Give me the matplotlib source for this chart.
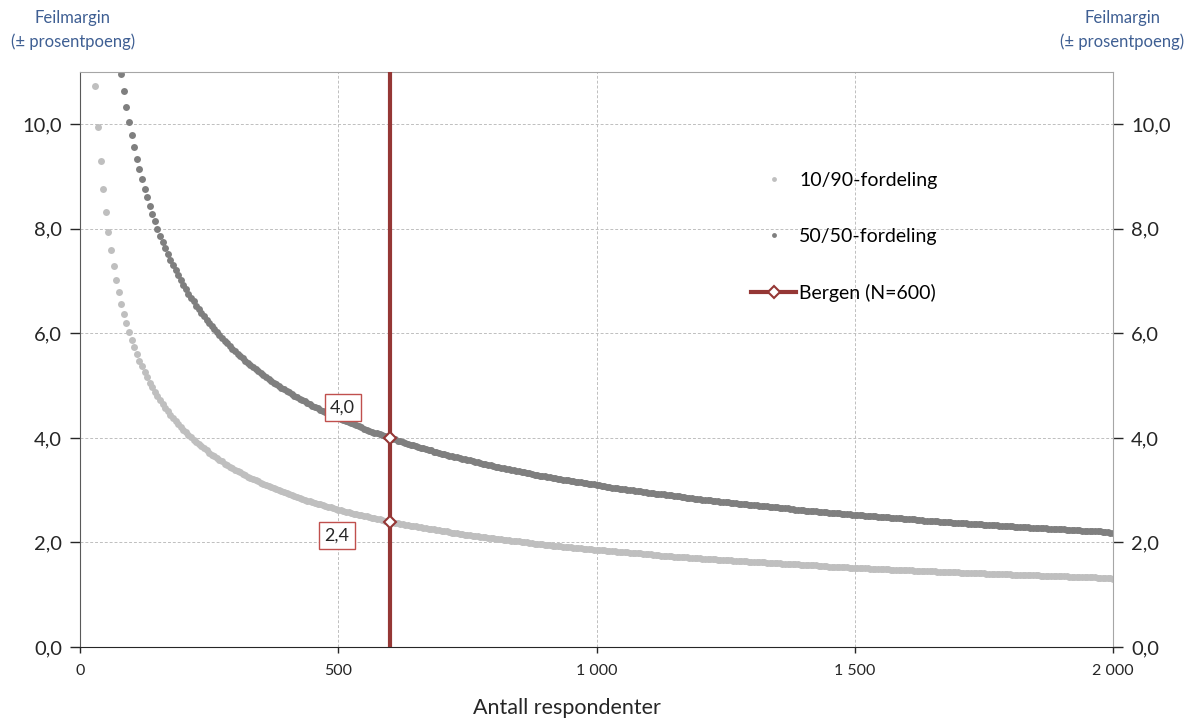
import matplotlib
matplotlib.use("Agg")
import matplotlib.pyplot as plt
from matplotlib.lines import Line2D
from matplotlib.ticker import FuncFormatter

plt.rcParams['font.family'] = ['Lato', 'DejaVu Sans']

# Number of respondents (x), every 5th from 30 to 2000
n_resp = list(range(30, 2001, 5))

# Margin of error, in hundredths of a percentage point, 10/90 distribution
moe_1090_hundredths = [
    1074, 994, 930, 877, 832, 793, 759, 729, 703, 679,
    657, 638, 620, 603, 588, 574, 561, 548, 537, 526,
    516, 506, 497, 488, 480, 472, 465, 458, 451, 444,
    438, 432, 427, 421, 416, 411, 406, 401, 396, 392,
    388, 384, 380, 376, 372, 368, 365, 361, 358, 355,
    351, 348, 345, 342, 339, 337, 334, 331, 329, 326,
    324, 321, 319, 317, 314, 312, 310, 308, 306, 304,
    302, 300, 298, 296, 294, 292, 290, 289, 287, 285,
    284, 282, 280, 279, 277, 276, 274, 273, 271, 270,
    268, 267, 266, 264, 263, 262, 260, 259, 258, 257,
    255, 254, 253, 252, 251, 250, 248, 247, 246, 245,
    244, 243, 242, 241, 240, 239, 238, 237, 236, 235,
    234, 233, 232, 232, 231, 230, 229, 228, 227, 226,
    225, 225, 224, 223, 222,
    221, 221, 220, 219, 218, 218, 217, 216, 215, 215,
    214, 213, 213, 212, 211, 211, 210, 209, 209, 208,
    207, 207, 206, 205, 205, 204, 203, 203, 202, 202,
    201, 201, 200, 199, 199, 198, 198, 197, 197, 196,
    195, 195, 194, 194, 193, 193, 192, 192, 191, 191,
    190, 190, 189, 189, 188, 188, 187, 187, 186, 186,
    185, 185, 185, 184, 184, 183, 183, 182, 182, 181,
    181, 181, 180, 180, 179, 179, 179, 178, 178, 177,
    177, 176, 176, 176, 175, 175, 175, 174, 174, 173,
    173, 173, 172, 172, 172, 171, 171, 170, 170, 170,
    169, 169, 169, 168, 168, 168, 167, 167, 167, 166,
    166, 166, 165, 165, 165, 164, 164, 164, 163, 163,
    163, 162, 162, 162, 162, 161, 161, 161, 160, 160,
    160, 159, 159, 159, 159, 158, 158, 158, 157, 157,
    157, 157, 156, 156, 156, 155, 155, 155, 155, 154,
    154, 154, 154, 153, 153, 153, 153, 152, 152, 152,
    152, 151, 151, 151, 151, 150, 150, 150, 150, 149,
    149, 149, 149, 148, 148, 148, 148, 147, 147, 147,
    147, 147, 146, 146, 146, 146, 145, 145, 145, 145,
    145, 144, 144, 144, 144, 143, 143, 143, 143, 143,
    142, 142, 142, 142, 142, 141, 141, 141, 141, 141,
    140, 140, 140, 140, 140, 139, 139, 139, 139, 139,
    138, 138, 138, 138, 138, 137, 137, 137, 137, 137,
    137, 136, 136, 136, 136, 136, 135, 135, 135, 135,
    135, 135, 134, 134, 134, 134, 134, 133, 133, 133,
    133, 133, 133, 132, 132, 132, 132, 132, 132, 131,
]

# Margin of error, in hundredths of a percentage point, 50/50 distribution
moe_5050_hundredths = [
    1789, 1657, 1550, 1461, 1386, 1321, 1265, 1216, 1171, 1132,
    1096, 1063, 1033, 1005, 980, 956, 934, 914, 895, 877,
    860, 843, 828, 814, 800, 787, 775, 763, 752, 741,
    730, 721, 711, 702, 693, 684, 676, 668, 661, 653,
    646, 639, 633, 626, 620, 614, 608, 602, 596, 591,
    586, 581, 575, 571, 566, 561, 557, 552, 548, 544,
    539, 535, 531, 528, 524, 520, 517, 513, 509, 506,
    503, 499, 496, 493, 490, 487, 484, 481, 478, 475,
    473, 470, 467, 465, 462, 459, 457, 454, 452, 450,
    447, 445, 443, 440, 438,
    436, 434, 432, 430, 428, 426, 424, 422, 420, 418,
    416, 414, 412, 410, 409, 407, 405, 403, 402, 400,
    398, 397, 395, 394, 392, 390, 389, 387, 386, 384,
    383, 381, 380, 379, 377, 376, 374, 373, 372, 370,
    369, 368, 366, 365, 364, 363, 361, 360, 359, 358,
    357, 355, 354, 353, 352, 351, 350, 349, 348, 346,
    345, 344, 343, 342, 341, 340, 339, 338, 337, 336,
    335, 334, 333, 332, 331, 330, 329, 328, 328, 327,
    326, 325, 324, 323, 322, 321, 320, 320, 319, 318,
    317, 316, 315, 315, 314, 313, 312, 311, 311, 310,
    309, 308, 308, 307, 306, 305, 305, 304, 303, 302,
    302, 301, 300, 300, 299, 298, 298, 297, 296, 295,
    295, 294, 293, 293, 292, 292, 291, 290, 290, 289,
    288, 288, 287, 287, 286, 285, 285, 284, 283, 283,
    282, 282, 281, 281, 280, 279, 279, 278, 278, 277,
    277, 276, 276, 275, 274, 274, 273, 273, 272, 272,
    271, 271, 270, 270, 269, 269, 268, 268, 267, 267,
    266, 266, 265, 265, 264, 264, 263, 263, 262, 262,
    261, 261, 261, 260, 260, 259, 259, 258, 258, 257,
    257, 256, 256, 256, 255, 255, 254, 254, 253, 253,
    253, 252, 252, 251, 251, 251, 250, 250, 249, 249,
    249, 248, 248, 247, 247, 247, 246, 246, 245, 245,
    245, 244, 244, 243, 243, 243, 242, 242, 242, 241,
    241, 241, 240, 240, 239, 239, 239, 238, 238, 238,
    237, 237, 237, 236, 236, 236, 235, 235, 235, 234,
    234, 234, 233, 233, 233, 232, 232, 232, 231, 231,
    231, 230, 230, 230, 229, 229, 229, 228, 228, 228,
    228, 227, 227, 227, 226, 226, 226, 225, 225, 225,
    225, 224, 224, 224, 223, 223, 223, 222, 222, 222,
    222, 221, 221, 221, 221, 220, 220, 220, 219, 219,
]

bergen_n = 600
bergen_vals = [4.0, 2.4]
bergen_labels = ["4,0", "2,4"]
legend_labels = ['10/90-fordeling', '50/50-fordeling', f'Bergen (N={bergen_n})']
x_ticks = [0, 500, 1000, 1500, 2000]
y_ticks = [0, 2, 4, 6, 8, 10]

moe_1090 = [v / 100 for v in moe_1090_hundredths]
moe_5050 = [v / 100 for v in moe_5050_hundredths]
assert len(moe_1090) == len(n_resp) == len(moe_5050)

fig = plt.figure(figsize=(11.87, 7.21), dpi=100)
ax = fig.add_axes([80/1187, 1-647/721, 1033/1187, 575/721])

light = '#BFBFBF'
dark = '#7F7F7F'
red = '#953735'

ax.plot(n_resp, moe_1090, 'o', ms=5, color=light, mec='none', zorder=2)
ax.plot(n_resp, moe_5050, 'o', ms=5, color=dark, mec='none', zorder=2)
ax.axvline(bergen_n, color=red, lw=3, zorder=3)
ax.plot([bergen_n]*len(bergen_vals), bergen_vals, 'D', ms=6.5, mfc='white', mec=red, mew=1.5, zorder=4)

offs = [(-34, 22), (-38, -10)]
for v, lab, off in zip(bergen_vals, bergen_labels, offs):
    ax.annotate(lab, (bergen_n, v), xytext=off, textcoords='offset points',
                ha='center', va='center', fontsize=13, color='#262626',
                bbox=dict(boxstyle='square,pad=0.3', fc='white', ec='#C0504D', lw=1), zorder=5)

ax.set_xlim(0, 2000)
ax.set_ylim(0, 11)
ax.set_xticks(x_ticks)
ax.xaxis.set_major_formatter(FuncFormatter(lambda v, p: f"{int(v):,}".replace(',', ' ')))
ax.set_yticks(y_ticks)
ax.yaxis.set_major_formatter(FuncFormatter(lambda v, p: f"{v:.1f}".replace('.', ',')))
ax.tick_params(axis='y', which='both', left=True, right=True, labelleft=True, labelright=True,
               direction='out', length=7, width=1, labelsize=14.5, pad=6, colors='#262626')
ax.tick_params(axis='x', direction='out', length=4, width=1, labelsize=11.5, pad=8, colors='#262626')
ax.grid(True, color='#BFBFBF', ls=(0, (3, 2)), lw=0.7)
ax.set_axisbelow(True)
for s in ['top', 'right']:
    ax.spines[s].set_color('#A6A6A6')
ax.spines['left'].set_color('#595959')
ax.spines['bottom'].set_color('#262626')

ax.set_xlabel('Antall respondenter', fontsize=15.5, color='#262626')
ax.xaxis.set_label_coords((567-80)/1033, -(708-647)/575)
ax.xaxis.label.set_va('center')

h1 = Line2D([], [], ls='none', marker='o', ms=3.5, color=light, mec='none')
h2 = Line2D([], [], ls='none', marker='o', ms=3.5, color=dark, mec='none')
h3 = Line2D([], [], color=red, lw=3, marker='D', ms=6.5, mfc='white', mec=red, mew=1.5)
ax.legend([h1, h2, h3], legend_labels,
          loc='upper left', bbox_to_anchor=(0.65, 0.8265), frameon=False, fontsize=14,
          handlelength=2.3, handletextpad=0.15, labelspacing=2.0, borderpad=0, borderaxespad=0)

blue = '#3F5F93'
for x in [73/1187, 1122/1187]:
    fig.text(x, 1-18/721, 'Feilmargin', ha='center', va='center', fontsize=12, color=blue)
    fig.text(x, 1-42/721, '(± prosentpoeng)', ha='center', va='center', fontsize=12, color=blue)

fig.savefig('out.png', dpi=100)
